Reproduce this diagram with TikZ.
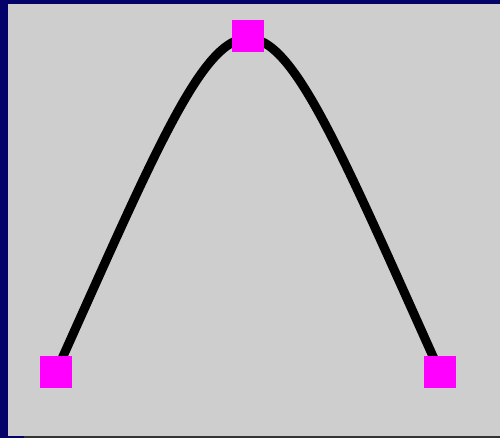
\documentclass[tikz,border=0pt]{standalone}
\definecolor{navyb}{HTML}{03036A}
\definecolor{bggray}{HTML}{CECECE}
\definecolor{darkb}{HTML}{333333}
\definecolor{mag}{HTML}{FF00FF}
\begin{document}
\begin{tikzpicture}[x=1pt,y=-1pt,
  handle/.style={fill=mag,draw=none,minimum size=32pt,inner sep=0pt,outer sep=0pt,rectangle},
  curveline/.style={line width=9pt,draw=black}]
\useasboundingbox (0,0) rectangle (500,438);
\fill[bggray] (0,0) rectangle (500,438);
\fill[navyb] (0,0) rectangle (500,4);
\fill[navyb] (0,0) rectangle (8,438);
\fill[navyb] (0,436) rectangle (24,438);
\fill[darkb] (24,436) rectangle (500,438);
\coordinate (p0) at (56,372);
\coordinate (p3) at (440,372);
\coordinate (c1) at (256,-73);
\coordinate (c2) at (240,-73);
\draw[curveline] (p0) .. controls (c1) and (c2) .. (p3);
\node[handle] (left) at (56,372) {};
\node[handle] (top) at (248,36) {};
\node[handle] (right) at (440,372) {};
\end{tikzpicture}
\end{document}
